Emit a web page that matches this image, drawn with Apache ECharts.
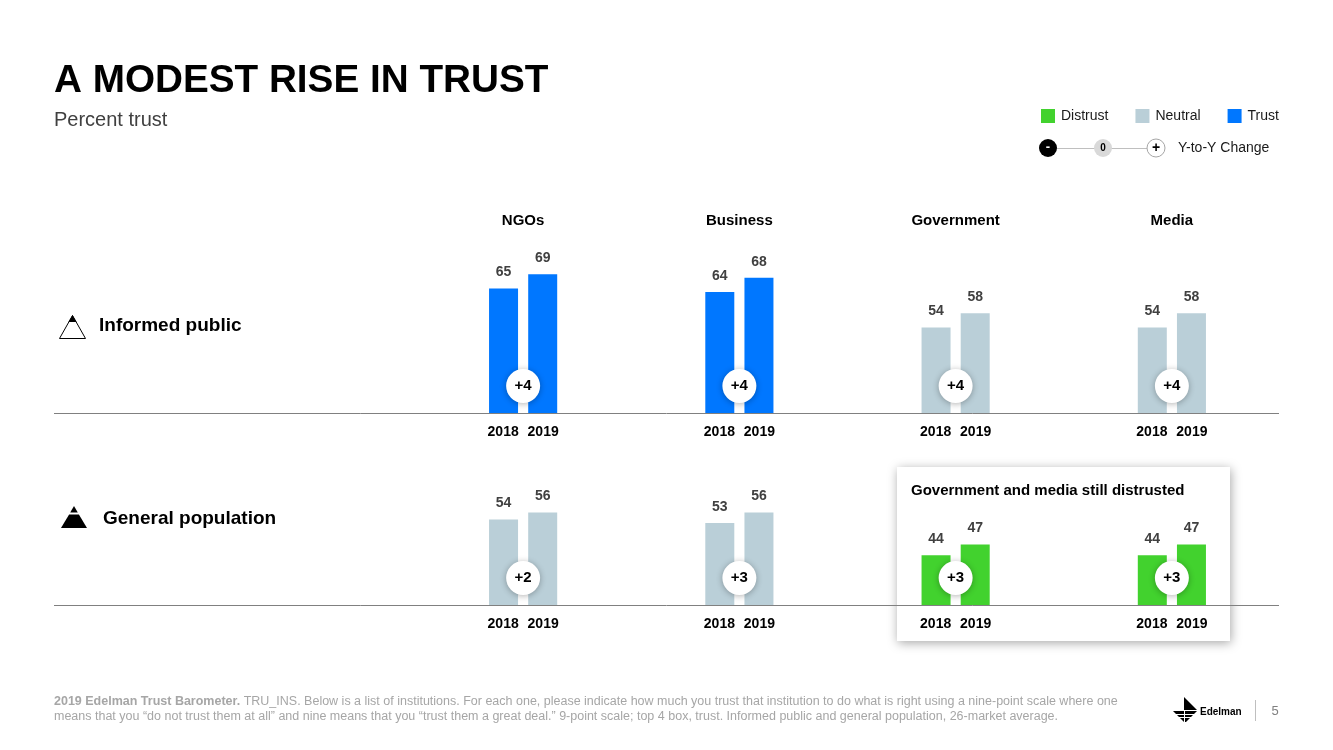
<!DOCTYPE html>
<html>
<head>
<meta charset="utf-8">
<script src="https://cdn.jsdelivr.net/npm/echarts@6/dist/echarts.min.js"></script>
<style>
html,body{margin:0;padding:0;background:#fff;}
#chart{width:1333px;height:750px;}
</style>
</head>
<body>
<div id="chart"></div>
<script>
// ---- data ----
const institutions = ['NGOs', 'Business', 'Government', 'Media'];
const years = ['2018', '2019'];
const informed2018 = [65, 64, 54, 54];
const informed2019 = [69, 68, 58, 58];
const general2018 = [54, 53, 44, 44];
const general2019 = [56, 56, 47, 47];
const informedChange = [4, 4, 4, 4];
const generalChange = [2, 3, 3, 3];
const legendNames = ['Distrust', 'Neutral', 'Trust'];

// ---- styles ----
const FONT = '"Liberation Sans", Arial, Helvetica, sans-serif';
const C_TRUST = '#0077FF', C_NEUTRAL = '#BACFD8', C_DISTRUST = '#42D22E';
const Y_MIN = 30, Y_MAX = 80;
function colorFor(v) { return v >= 60 ? C_TRUST : (v >= 50 ? C_NEUTRAL : C_DISTRUST); }

const chart = echarts.init(document.getElementById('chart'), null, {renderer: 'canvas'});

const yearLabel = {
  show: true, margin: 12, interval: 0,
  formatter: () => years.map(y => '{y|' + y + '}').join(''),
  rich: { y: { width: 40, align: 'center', fontWeight: 'bold', fontSize: 14, color: '#000', fontFamily: FONT } }
};

function barSeries(data, xi) {
  return {
    type: 'bar', xAxisIndex: xi, yAxisIndex: xi === 2 ? 1 : 0,
    data: data.map(v => ({ value: v, itemStyle: { color: colorFor(v) } })),
    barWidth: 29, barGap: '35%', z: 2, silent: true,
    label: { show: true, position: 'top', distance: 9, fontWeight: 'bold', fontSize: 14, color: '#404040', fontFamily: FONT }
  };
}
function changeSeries(changes, xi) {
  return {
    type: 'scatter', xAxisIndex: xi, yAxisIndex: xi === 2 ? 1 : 0, clip: false, z: 4, silent: true,
    data: changes.map((c, i) => [i, Y_MIN]),
    symbol: 'circle', symbolSize: 34, symbolOffset: [0, -27],
    itemStyle: { color: '#fff', opacity: 1, shadowBlur: 6, shadowColor: 'rgba(0,0,0,0.3)', shadowOffsetY: 1 },
    label: { show: true, position: 'inside', formatter: p => (changes[p.dataIndex] >= 0 ? '+' : '') + changes[p.dataIndex],
      fontWeight: 'bold', fontSize: 15, color: '#000', fontFamily: FONT }
  };
}

const option = {
  backgroundColor: '#fff',
  animation: false,
  textStyle: { fontFamily: FONT },
  title: {
    text: 'A MODEST RISE IN TRUST', subtext: 'Percent trust',
    left: 54, top: 62, itemGap: 9, padding: 0,
    textStyle: { fontSize: 38.7, fontWeight: 'bold', color: '#000', fontFamily: FONT },
    subtextStyle: { fontSize: 20, color: '#404040', fontFamily: FONT }
  },
  legend: {
    data: legendNames, left: 1041, top: 109, padding: 0, icon: 'rect', itemWidth: 14, itemHeight: 14, itemGap: 27,
    selectedMode: false, textStyle: { fontSize: 14, color: '#1a1a1a', fontFamily: FONT, padding: [0, 0, 0, 1] }
  },
  grid: [
    { left: 415, right: 53, top: 235, bottom: 337 },
    { left: 415, right: 53, top: 427, bottom: 145 }
  ],
  xAxis: [
    { type: 'category', gridIndex: 0, data: institutions, axisLine: { show: false }, axisTick: { show: false }, axisLabel: yearLabel },
    { type: 'category', gridIndex: 0, position: 'top', data: institutions, axisLine: { show: false }, axisTick: { show: false },
      axisLabel: { show: true, margin: 7, fontWeight: 'bold', fontSize: 15, color: '#000', fontFamily: FONT } },
    { type: 'category', gridIndex: 1, data: institutions, axisLine: { show: false }, axisTick: { show: false }, axisLabel: yearLabel }
  ],
  yAxis: [
    { type: 'value', gridIndex: 0, min: Y_MIN, max: Y_MAX, show: false, splitLine: { show: false } },
    { type: 'value', gridIndex: 1, min: Y_MIN, max: Y_MAX, show: false, splitLine: { show: false } }
  ],
  series: [
    barSeries(informed2018, 0), barSeries(informed2019, 0), changeSeries(informedChange, 0),
    barSeries(general2018, 2), barSeries(general2019, 2), changeSeries(generalChange, 2),
    { type: 'scatter', name: legendNames[0], data: [], itemStyle: { color: C_DISTRUST, opacity: 1 } },
    { type: 'scatter', name: legendNames[1], data: [], itemStyle: { color: C_NEUTRAL, opacity: 1 } },
    { type: 'scatter', name: legendNames[2], data: [], itemStyle: { color: C_TRUST, opacity: 1 } }
  ],
  graphic: [
    // highlight box
    { type: 'rect', z: 0, shape: { x: 897, y: 467, width: 333, height: 174 },
      style: { fill: '#fff', shadowBlur: 10, shadowColor: 'rgba(0,0,0,0.35)', shadowOffsetX: 1, shadowOffsetY: 2 } },
    { type: 'text', z: 1, x: 911, y: 491, style: { text: 'Government and media still distrusted',
      fill: '#000', font: 'bold 15px ' + FONT, verticalAlign: 'middle' } },
    // baselines
    { type: 'line', z: 1, shape: { x1: 54, y1: 413.5, x2: 1279, y2: 413.5 }, style: { stroke: '#808080', lineWidth: 1 } },
    { type: 'line', z: 1, shape: { x1: 54, y1: 605.5, x2: 1279, y2: 605.5 }, style: { stroke: '#808080', lineWidth: 1 } },
    // row labels
    { type: 'polygon', z: 1, shape: { points: [[59.5, 338.5], [72.5, 315.5], [85.5, 338.5]] }, style: { fill: '#fff', stroke: '#000', lineWidth: 1 } },
    { type: 'polygon', z: 1, shape: { points: [[72.5, 315], [68.5, 322], [76.5, 322]] }, style: { fill: '#000' } },
    { type: 'text', z: 1, x: 99, y: 326, style: { text: 'Informed public', font: 'bold 19px ' + FONT, fill: '#000', verticalAlign: 'middle' } },
    { type: 'polygon', z: 1, shape: { points: [[74, 506], [70.2, 512.5], [77.8, 512.5]] }, style: { fill: '#000' } },
    { type: 'polygon', z: 1, shape: { points: [[69.1, 514.5], [78.9, 514.5], [87, 528], [61, 528]] }, style: { fill: '#000' } },
    { type: 'text', z: 1, x: 103, y: 519, style: { text: 'General population', font: 'bold 19px ' + FONT, fill: '#000', verticalAlign: 'middle' } },
    // Y-to-Y change legend
    { type: 'line', z: 1, shape: { x1: 1057, y1: 148.5, x2: 1147, y2: 148.5 }, style: { stroke: '#bfbfbf', lineWidth: 1 } },
    { type: 'circle', z: 2, shape: { cx: 1048, cy: 148, r: 9 }, style: { fill: '#000' } },
    { type: 'text', z: 3, x: 1048, y: 147, style: { text: '-', font: 'bold 13px ' + FONT, fill: '#fff', align: 'center', verticalAlign: 'middle' } },
    { type: 'circle', z: 2, shape: { cx: 1103, cy: 148, r: 9 }, style: { fill: '#d9d9d9' } },
    { type: 'text', z: 3, x: 1103, y: 148, style: { text: '0', font: 'bold 10px ' + FONT, fill: '#000', align: 'center', verticalAlign: 'middle' } },
    { type: 'circle', z: 2, shape: { cx: 1156, cy: 148, r: 9 }, style: { fill: '#fff', stroke: '#a6a6a6', lineWidth: 1 } },
    { type: 'text', z: 3, x: 1156, y: 148, style: { text: '+', font: 'bold 14px ' + FONT, fill: '#000', align: 'center', verticalAlign: 'middle' } },
    { type: 'text', z: 1, x: 1178, y: 148, style: { text: 'Y-to-Y Change', font: '14px ' + FONT, fill: '#1a1a1a', verticalAlign: 'middle' } },
    // footer
    { type: 'text', z: 1, x: 54, y: 702, style: {
      text: '{b|2019 Edelman Trust Barometer.} TRU_INS. Below is a list of institutions. For each one, please indicate how much you trust that institution to do what is right using a nine-point scale where one',
      font: '12.5px ' + FONT, fill: '#a6a6a6', verticalAlign: 'middle',
      rich: { b: { fontWeight: 'bold', fontSize: 12.5, fill: '#a6a6a6', fontFamily: FONT } } } },
    { type: 'text', z: 1, x: 54, y: 717, style: {
      text: 'means that you \u201cdo not trust them at all\u201d and nine means that you \u201ctrust them a great deal.\u201d 9-point scale; top 4 box, trust. Informed public and general population, 26-market average.',
      font: '12.5px ' + FONT, fill: '#a6a6a6', verticalAlign: 'middle' } },
    // logo
    { type: 'polygon', z: 1, shape: { points: [[1184, 697], [1197, 710], [1184, 710]] }, style: { fill: '#000' } },
    { type: 'polygon', z: 1, shape: { points: [[1173, 711], [1197, 711], [1186, 722], [1184, 722]] }, style: { fill: '#000' } },
    { type: 'line', z: 2, shape: { x1: 1174, y1: 714.5, x2: 1194, y2: 714.5 }, style: { stroke: '#fff', lineWidth: 1 } },
    { type: 'line', z: 2, shape: { x1: 1176, y1: 717.5, x2: 1191, y2: 717.5 }, style: { stroke: '#fff', lineWidth: 1 } },
    { type: 'line', z: 2, shape: { x1: 1184.5, y1: 711, x2: 1184.5, y2: 722 }, style: { stroke: '#fff', lineWidth: 1 } },
    { type: 'text', z: 1, x: 1200, y: 712, style: { text: 'Edelman', font: 'bold 10px ' + FONT, fill: '#000', verticalAlign: 'middle' } },
    { type: 'line', z: 1, shape: { x1: 1255.5, y1: 700, x2: 1255.5, y2: 721 }, style: { stroke: '#bfbfbf', lineWidth: 1 } },
    { type: 'text', z: 1, x: 1275, y: 711, style: { text: '5', font: '13px ' + FONT, fill: '#808080', align: 'center', verticalAlign: 'middle' } }
  ]
};
chart.setOption(option);
</script>
</body>
</html>
